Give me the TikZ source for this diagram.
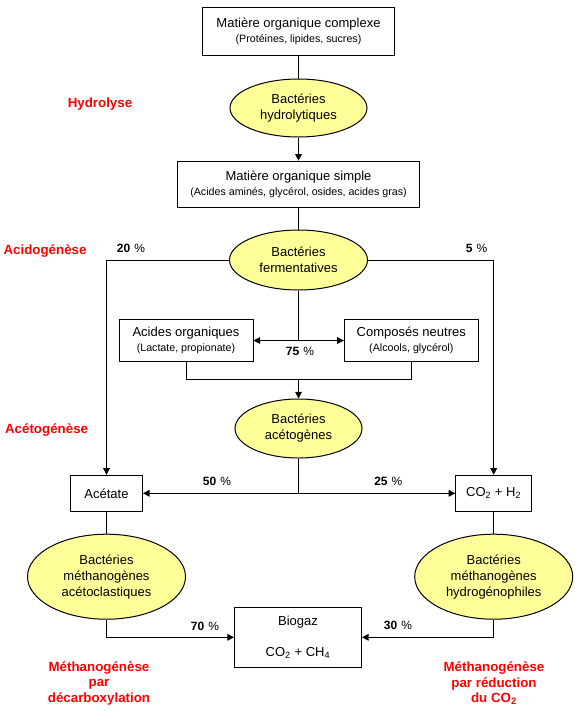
\documentclass[tikz,border=0pt]{standalone}
\usepackage{fontspec}
\setmainfont{Liberation Sans}
\usepackage{xcolor}
\usetikzlibrary{shapes.geometric,arrows.meta,positioning,calc}
\definecolor{jaune}{RGB}{255,255,153}
\definecolor{rouge}{RGB}{255,0,0}
\newcommand{\pxu}{0.75pt}
\newcommand{\petit}{\fontsize{8}{9}\selectfont}

\begin{document}
\begin{tikzpicture}[x=0.75pt,y=-0.75pt,line width=0.75pt,
  boite/.style={rectangle, draw, align=center, inner sep=0pt, font=\fontsize{9.75}{10.7}\selectfont},
  bact/.style={ellipse, draw, fill=jaune, align=center, inner sep=0pt, font=\fontsize{9.75}{12}\selectfont},
  phase/.style={text=rouge, align=center, font=\fontsize{10}{11.6}\selectfont\bfseries},
  pct/.style={font=\fontsize{9}{10}\selectfont},
  fleche/.style={-{Triangle[length=5pt,width=5pt]}}]
\useasboundingbox (0,0) rectangle (578,711);

\node[boite, minimum width=192*\pxu, minimum height=48*\pxu] (mocx) at (298.5,31.2) {Matière organique complexe\\[1pt]{\petit (Protéines, lipides, sucres)}};
\node[bact, minimum width=137*\pxu, minimum height=58*\pxu] (hydro) at (298.5,108) {Bactéries\\hydrolytiques};
\node[boite, minimum width=242*\pxu, minimum height=46*\pxu] (mos) at (298.5,184.2) {Matière organique simple\\[1pt]{\petit (Acides aminés, glycérol, osides, acides gras)}};
\node[bact, minimum width=138*\pxu, minimum height=60*\pxu] (ferm) at (298.5,260) {Bactéries\\fermentatives};
\node[boite, minimum width=134*\pxu, minimum height=42*\pxu] (acorg) at (186,340.5) {Acides organiques\\[1pt]{\petit (Lactate, propionate)}};
\node[boite, minimum width=134*\pxu, minimum height=42*\pxu] (neutres) at (411.3,340.5) {Composés neutres\\[1pt]{\petit (Alcools, glycérol)}};
\node[bact, minimum width=127*\pxu, minimum height=59*\pxu] (aceto) at (298.5,428.5) {Bactéries\\acétogènes};
\node[boite, minimum width=72*\pxu, minimum height=36*\pxu] (acetate) at (106.5,493.3) {Acétate};
\node[boite, minimum width=76*\pxu, minimum height=36*\pxu] (cohh) at (493.7,493.3) {CO\textsubscript{2} + H\textsubscript{2}};
\node[bact, minimum width=158*\pxu, minimum height=85*\pxu] (methA) at (106.5,576.7) {Bactéries\\méthanogènes\\acétoclastiques};
\node[bact, minimum width=158*\pxu, minimum height=85*\pxu] (methH) at (493.7,576.7) {Bactéries\\méthanogènes\\hydrogénophiles};
\node[boite, minimum width=127*\pxu, minimum height=60*\pxu] (biogaz) at (298,637.3) {Biogaz\\[12pt]CO\textsubscript{2} + CH\textsubscript{4}};

\node[phase] (hydrolyse) at (100,104.3) {Hydrolyse};
\node[phase] (acido) at (45,250.7) {Acidogénèse};
\node[phase] (acetogen) at (46.6,430) {Acétogénèse};
\node[phase] (methdec) at (99,683.3) {Méthanogénèse\\par\\décarboxylation};
\node[phase] (methred) at (494,683.3) {Méthanogénèse\\par réduction\\du CO\textsubscript{2}};

\node[pct] (p20) at (131,248.3) {\textbf{20}\hspace{3pt}\%};
\node[pct] (p5) at (476.5,248.3) {\textbf{5}\hspace{3pt}\%};
\node[pct] (p75) at (300,351.7) {\textbf{75}\hspace{3pt}\%};
\node[pct] (p50) at (217,481) {\textbf{50}\hspace{3pt}\%};
\node[pct] (p25) at (388.3,481.5) {\textbf{25}\hspace{3pt}\%};
\node[pct] (p70) at (205,626.7) {\textbf{70}\hspace{3pt}\%};
\node[pct] (p30) at (398,625.7) {\textbf{30}\hspace{3pt}\%};

\coordinate (split) at (298.5,340.5);
\coordinate (merge) at (298.5,379.3);
\coordinate (fourche) at (298.5,493.3);

\draw (mocx) -- (hydro);
\draw[fleche] (hydro) -- (mos);
\draw (mos) -- (ferm);
\draw[fleche] (ferm.west) -| (acetate.north);
\draw[fleche] (ferm.east) -| (cohh.north);
\draw (ferm) -- (split);
\draw[fleche] (split) -- (acorg.east);
\draw[fleche] (split) -- (neutres.west);
\draw (acorg.south) |- (merge) -| (neutres.south);
\draw[fleche] (merge) -- (aceto);
\draw (aceto) -- (fourche);
\draw[fleche] (fourche) -- (acetate.east);
\draw[fleche] (fourche) -- (cohh.west);
\draw (acetate) -- (methA);
\draw (cohh) -- (methH);
\draw[fleche] (methA.south) |- (biogaz.west);
\draw[fleche] (methH.south) |- (biogaz.east);
\end{tikzpicture}
\end{document}
